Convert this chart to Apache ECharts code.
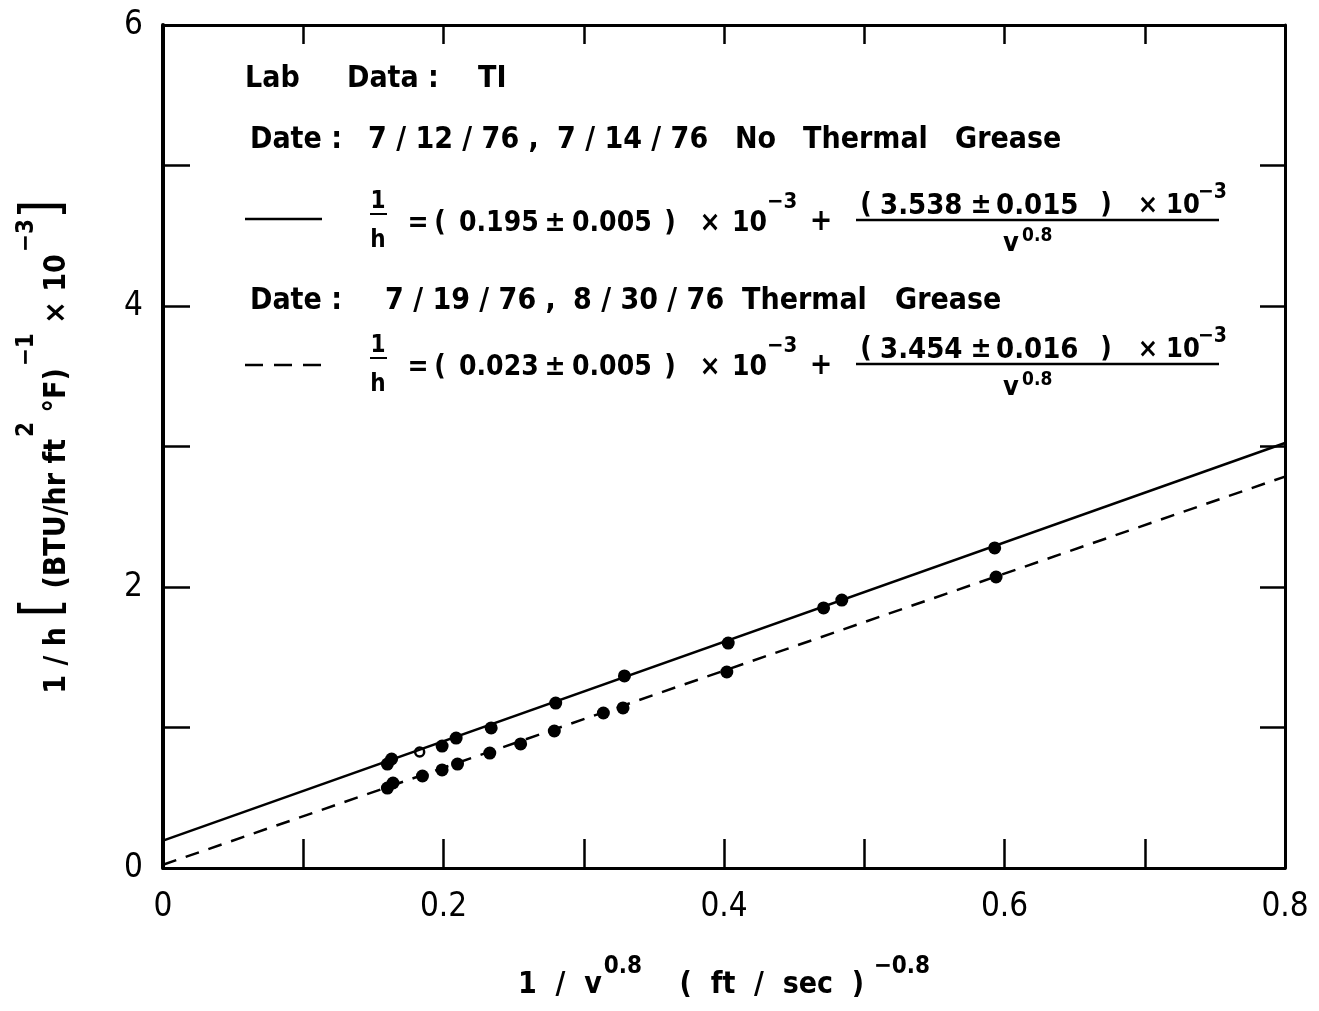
<!DOCTYPE html>
<html>
<head>
<meta charset="utf-8">
<script src="https://cdn.jsdelivr.net/npm/echarts@6/dist/echarts.min.js"></script>
<style>
html, body { margin: 0; padding: 0; background: #fff; }
#chart { width: 1319px; height: 1011px; }
</style>
</head>
<body>
<div id="chart"></div>
<script>
// fitted lines, read at x = 0 and x = 0.8
const fitX = [0, 0.8];
const noGreaseFit = [0.195, 3.025];
const greaseFit = [0.023, 2.786];

// measured points (1/v^0.8, 1/h)
const noGreaseX = [0.160, 0.163, 0.199, 0.209, 0.234, 0.280, 0.329, 0.403, 0.471, 0.484, 0.593];
const noGreaseY = [0.740, 0.776, 0.868, 0.925, 0.997, 1.174, 1.367, 1.601, 1.851, 1.907, 2.278];
const noGreaseOpenX = [0.183];
const noGreaseOpenY = [0.826];
const greaseX = [0.160, 0.164, 0.185, 0.199, 0.210, 0.233, 0.255, 0.279, 0.314, 0.328, 0.402, 0.594];
const greaseY = [0.569, 0.605, 0.655, 0.698, 0.740, 0.818, 0.883, 0.975, 1.103, 1.139, 1.395, 2.071];

const xTicks = ['0', '0.2', '0.4', '0.6', '0.8'];
const yTicks = ['0', '2', '4', '6'];

const FONT = '"DejaVu Sans Condensed", "DejaVu Sans", sans-serif';
const pairs = (xs, ys) => xs.map((x, i) => [x, ys[i]]);

const chart = echarts.init(document.getElementById('chart'));

const txt = (x, y, text, size, align) => ({
    type: 'text', x: x, y: y, z: 10,
    style: {
        text: text, fill: '#000', fontFamily: FONT, fontSize: size || 30, fontWeight: 'bold',
        align: align || 'left', verticalAlign: 'middle'
    }
});
const seg = (x1, y1, x2, y2, dash, w) => ({
    type: 'line', z: 10,
    shape: { x1: x1, y1: y1, x2: x2, y2: y2 },
    style: { stroke: '#000', lineWidth: w || 2.5, lineDash: dash || null }
});

// "1/h = (a ± b) x 10^-3 + (c ± d) x 10^-3 / v^0.8", y = text centre
const equation = (y, a, b, c, d, dash) => [
    dash ? seg(245, y - 3, 322, y - 3, [18, 11]) : seg(245, y - 5, 322, y - 5),
    txt(378, y - 22, '1', 24, 'center'),
    seg(370, y - 10, 387, y - 10, null, 2),
    txt(378, y + 17, 'h', 24, 'center'),
    txt(418, y, '=', 28, 'center'),
    txt(440, y, '(', 28, 'center'),
    txt(459, y, a, 28, 'left'),
    txt(555, y, '±', 28, 'center'),
    txt(572, y, b, 28, 'left'),
    txt(670, y, ')', 28, 'center'),
    txt(710, y, '×', 28, 'center'),
    txt(732, y, '10', 28, 'left'),
    txt(767, y - 22, '−3', 22, 'left'),
    txt(821, y - 2, '+', 30, 'center'),
    txt(866, y - 18, '(', 28, 'center'),
    txt(880, y - 18, c, 29, 'left'),
    txt(981, y - 18, '±', 28, 'center'),
    txt(996, y - 18, d, 29, 'left'),
    txt(1106, y - 18, ')', 28, 'center'),
    txt(1148, y - 18, '×', 27, 'center'),
    txt(1166, y - 18, '10', 27, 'left'),
    txt(1198, y - 31, '−3', 21, 'left'),
    seg(856, y - 4, 1219, y - 4),
    txt(1011, y + 20, 'v', 27, 'center'),
    txt(1022, y + 12, '0.8', 19, 'left')
];

const richFor = (supPad) => ({
    a: { fontFamily: FONT, fontSize: 30, fontWeight: 'bold', verticalAlign: 'bottom', lineHeight: 44 },
    s: { fontFamily: FONT, fontSize: 24, fontWeight: 'bold', verticalAlign: 'bottom', padding: [0, 0, supPad, 2] },
    b: { fontFamily: FONT, fontSize: 56, verticalAlign: 'bottom', lineHeight: 60 }
});

const tickAxisX = (pos, showLabel, len) => ({
    type: 'value', min: 0, max: 0.8, interval: 0.1, position: pos,
    axisLine: { show: true, onZero: false, lineStyle: { color: '#000', width: 3 } },
    axisTick: { show: true, inside: true, length: len, lineStyle: { color: '#000', width: 2.5 } },
    axisLabel: {
        show: showLabel, margin: 23, color: '#000', fontFamily: FONT, fontSize: 33,
        formatter: v => { const s = v === 0 ? '0' : v.toFixed(1); return xTicks.includes(s) ? s : ''; }
    },
    splitLine: { show: false }
});
const tickAxisY = (pos, showLabel, len, w) => ({
    type: 'value', min: 0, max: 6, interval: 1, position: pos,
    axisLine: { show: true, onZero: false, lineStyle: { color: '#000', width: w } },
    axisTick: { show: true, inside: true, length: len, lineStyle: { color: '#000', width: 2.5 } },
    axisLabel: {
        show: showLabel, margin: 20, color: '#000', fontFamily: FONT, fontSize: 33,
        formatter: v => yTicks.includes(String(v)) ? String(v) : ''
    },
    splitLine: { show: false }
});

const xA = tickAxisX('bottom', true, 29);
xA.name = '{a|1  /  v}{s|0.8}{a|    (  ft  /  sec  )}{s| −0.8}';
xA.nameLocation = 'middle';
xA.nameGap = 87;
xA.nameTextStyle = { rich: richFor(21) };

const yA = tickAxisY('left', true, 27, 4);
yA.name = '{a|1 / h }{b|[}{a| (BTU/hr ft}{s|2}{a| °F)}{s|−1}{a| × 10}{s|−3}{b|]}';
yA.nameLocation = 'middle';
yA.nameRotate = 90;
yA.nameGap = 91;
yA.nameTextStyle = { rich: richFor(33) };

const option = {
    backgroundColor: '#fff',
    animation: false,
    grid: { left: 163, right: 34, top: 25, bottom: 143 },
    xAxis: [xA, tickAxisX('top', false, 19)],
    yAxis: [yA, tickAxisY('right', false, 25, 3)],
    series: [
        {
            type: 'line', data: pairs(fitX, noGreaseFit), showSymbol: false,
            lineStyle: { color: '#000', width: 2.5 }
        },
        {
            type: 'line', data: pairs(fitX, greaseFit), showSymbol: false,
            lineStyle: { color: '#000', width: 2.5, type: [14, 10] }
        },
        {
            type: 'scatter', data: pairs(noGreaseX, noGreaseY), symbolSize: 13,
            itemStyle: { color: '#000', opacity: 1 }
        },
        {
            type: 'scatter', data: pairs(noGreaseOpenX, noGreaseOpenY), symbolSize: 9,
            itemStyle: { color: '#fff', borderColor: '#000', borderWidth: 2.5, opacity: 1 }
        },
        {
            type: 'scatter', data: pairs(greaseX, greaseY), symbolSize: 13,
            itemStyle: { color: '#000', opacity: 1 }
        }
    ],
    graphic: [
        txt(245, 79, 'Lab'),
        txt(347, 79, 'Data :'),
        txt(478, 79, 'TI'),
        txt(250, 140, 'Date :'),
        txt(368, 140, '7 / 12 / 76 ,'),
        txt(557, 140, '7 / 14 / 76'),
        txt(735, 140, 'No'),
        txt(803, 140, 'Thermal'),
        txt(955, 140, 'Grease'),
        txt(250, 301, 'Date :'),
        txt(385, 301, '7 / 19 / 76 ,'),
        txt(573, 301, '8 / 30 / 76'),
        txt(742, 301, 'Thermal'),
        txt(895, 301, 'Grease')
    ]
        .concat(equation(224, '0.195', '0.005', '3.538', '0.015', false))
        .concat(equation(368, '0.023', '0.005', '3.454', '0.016', true))
};

chart.setOption(option);
</script>
</body>
</html>
